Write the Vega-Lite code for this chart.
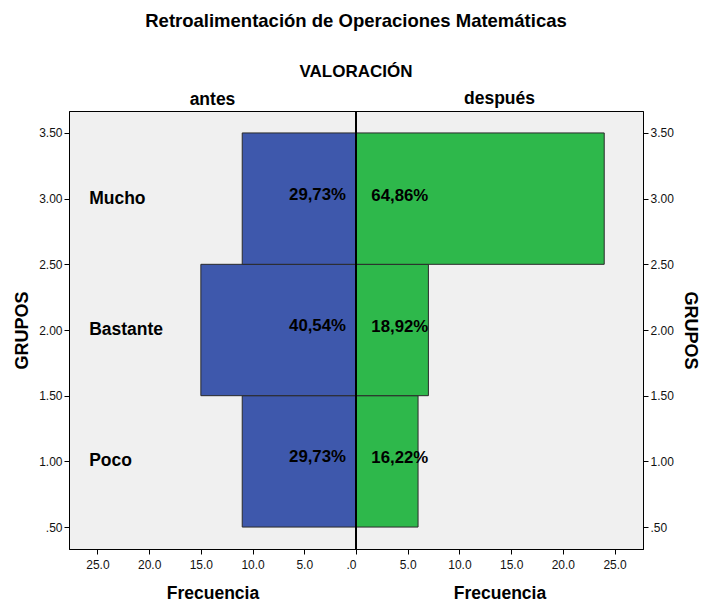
{
  "$schema": "https://vega.github.io/schema/vega-lite/v6.json",
  "padding": {"left": 13, "top": 11, "right": 5, "bottom": 5},
  "background": "white",
  "spacing": 0,
  "bounds": "flush",
  "title": {
    "text": "Retroalimentación de Operaciones Matemáticas",
    "subtitle": "VALORACIÓN",
    "font": "Liberation Sans",
    "subtitleFont": "Liberation Sans",
    "fontSize": 18.5,
    "fontWeight": "bold",
    "subtitleFontSize": 17,
    "subtitleFontWeight": "bold",
    "color": "black",
    "subtitleColor": "black",
    "subtitlePadding": 34,
    "offset": 9,
    "anchor": "middle"
  },
  "config": {
    "font": "Liberation Sans",
    "view": {"fill": "#f0f0f0", "stroke": "black", "strokeWidth": 1},
    "axis": {
      "grid": false,
      "domainColor": "black",
      "tickColor": "black",
      "labelColor": "#111111",
      "labelFontSize": 12,
      "labelFont": "Liberation Sans",
      "titleFont": "Liberation Sans",
      "titleFontSize": 18,
      "titleFontWeight": "bold",
      "titleColor": "black",
      "tickSize": 5
    }
  },
  "datasets": {
    "pir": [
      {"valoracion": "antes", "grupo": "Poco", "lo": 0.5, "hi": 1.5, "mid": 1, "n": 11, "pct": "29,73%"},
      {"valoracion": "antes", "grupo": "Bastante", "lo": 1.5, "hi": 2.5, "mid": 2, "n": 15, "pct": "40,54%"},
      {"valoracion": "antes", "grupo": "Mucho", "lo": 2.5, "hi": 3.5, "mid": 3, "n": 11, "pct": "29,73%"},
      {"valoracion": "después", "grupo": "Poco", "lo": 0.5, "hi": 1.5, "mid": 1, "n": 6, "pct": "16,22%"},
      {"valoracion": "después", "grupo": "Bastante", "lo": 1.5, "hi": 2.5, "mid": 2, "n": 7, "pct": "18,92%"},
      {"valoracion": "después", "grupo": "Mucho", "lo": 2.5, "hi": 3.5, "mid": 3, "n": 24, "pct": "64,86%"}
    ]
  },
  "hconcat": [
    {
      "width": 287,
      "height": 438,
      "title": {"text": "antes", "fontSize": 17.5, "fontWeight": "bold", "color": "black", "offset": 3, "font": "Liberation Sans"},
      "data": {"name": "pir"},
      "transform": [{"filter": "datum.valoracion == 'antes'"}],
      "layer": [
        {
          "mark": {"type": "rect", "fill": "#3E58AC", "stroke": "#2a2a2a", "strokeWidth": 1},
          "encoding": {
            "x": {
              "field": "n", "type": "quantitative",
              "scale": {"domain": [0, 27.75], "reverse": true, "nice": false, "zero": true},
              "axis": {"values": [0, 5, 10, 15, 20, 25], "labelExpr": "datum.value == 0 ? '.0' : format(datum.value, '.1f')", "title": "Frecuencia", "titleFontSize": 17.5, "titlePadding": 14, "labelPadding": 5}
            },
            "x2": {"datum": 0},
            "y": {
              "field": "lo", "type": "quantitative",
              "scale": {"domain": [0.333, 3.667], "nice": false, "zero": false},
              "axis": {"values": [0.5, 1, 1.5, 2, 2.5, 3, 3.5], "labelExpr": "datum.value == 0.5 ? '.50' : format(datum.value, '.2f')", "title": "GRUPOS", "titlePadding": 7}
            },
            "y2": {"field": "hi"}
          }
        },
        {
          "mark": {"type": "text", "align": "left", "baseline": "middle", "fontSize": 17.5, "fontWeight": "bold", "color": "black"},
          "encoding": {
            "x": {"datum": 25.8, "type": "quantitative", "title": "Frecuencia"},
            "y": {"field": "mid", "type": "quantitative", "title": "GRUPOS"},
            "text": {"field": "grupo"}
          }
        },
        {
          "mark": {"type": "text", "align": "right", "baseline": "middle", "fontSize": 16.8, "fontWeight": "bold", "color": "black", "dy": -4},
          "encoding": {
            "x": {"datum": 0.97, "type": "quantitative", "title": "Frecuencia"},
            "y": {"field": "mid", "type": "quantitative", "title": "GRUPOS"},
            "text": {"field": "pct"}
          }
        }
      ]
    },
    {
      "width": 287,
      "height": 438,
      "title": {"text": "después", "fontSize": 17.5, "fontWeight": "bold", "color": "black", "offset": 3, "font": "Liberation Sans"},
      "data": {"name": "pir"},
      "transform": [{"filter": "datum.valoracion == 'después'"}],
      "layer": [
        {
          "mark": {"type": "rect", "fill": "#2EB84B", "stroke": "#2a2a2a", "strokeWidth": 1},
          "encoding": {
            "x": {
              "field": "n", "type": "quantitative",
              "scale": {"domain": [0, 27.75], "nice": false, "zero": true},
              "axis": {"values": [5, 10, 15, 20, 25], "labelExpr": "datum.value == 0 ? '.0' : format(datum.value, '.1f')", "title": "Frecuencia", "titleFontSize": 17.5, "titlePadding": 14, "labelPadding": 5}
            },
            "x2": {"datum": 0},
            "y": {
              "field": "lo", "type": "quantitative",
              "scale": {"domain": [0.333, 3.667], "nice": false, "zero": false},
              "axis": {"orient": "right", "values": [0.5, 1, 1.5, 2, 2.5, 3, 3.5], "labelExpr": "datum.value == 0.5 ? '.50' : format(datum.value, '.2f')", "title": "GRUPOS", "titlePadding": 7}
            },
            "y2": {"field": "hi"}
          }
        },
        {
          "mark": {"type": "text", "align": "left", "baseline": "middle", "fontSize": 16.8, "fontWeight": "bold", "color": "black", "dy": -3},
          "encoding": {
            "x": {"datum": 1.48, "type": "quantitative", "title": "Frecuencia"},
            "y": {"field": "mid", "type": "quantitative", "title": "GRUPOS"},
            "text": {"field": "pct"}
          }
        },
        {
          "mark": {"type": "rule", "color": "black", "strokeWidth": 2},
          "encoding": {
            "x": {"datum": 0, "type": "quantitative", "title": "Frecuencia"}
          }
        }
      ]
    }
  ]
}
